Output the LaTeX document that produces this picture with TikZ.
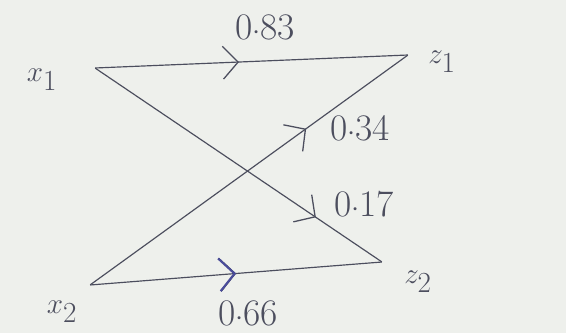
\documentclass[tikz,border=0pt]{standalone}
\usepackage{amsmath}
\usetikzlibrary{arrows.meta, decorations.markings, positioning}

\definecolor{paper}{HTML}{EEF0EC}
\definecolor{pencil}{HTML}{4C4E5E}
\definecolor{bluepen}{HTML}{4A4C9A}

\tikzset{
    hand/.style={font=\fontsize{32}{38}\selectfont, text=pencil},
    bighand/.style={font=\fontsize{44}{50}\selectfont, text=pencil},
    endpt/.style={inner sep=0pt, minimum size=0pt},
    wire/.style={draw=pencil, line width=1pt},
    midarrow/.style={postaction={decorate}, decoration={markings,
        mark=at position #1 with {\arrow[line width=1.1pt]{Straight Barb[length=13pt, width=28pt]}}}}
}

\begin{document}
\begin{tikzpicture}[x=0.03cm, y=-0.03cm]
        % Papel de fundo
        \fill[paper] (0,0) rectangle (566,333);
        \useasboundingbox (0,0) rectangle (566,333);

        % Pontos de entrada e saida
        \node[endpt] (x1) at (95,68) {};
        \node[endpt] (x2) at (90,285) {};
        \node[endpt] (z1) at (408,55) {};
        \node[endpt] (z2) at (382,262) {};

        % Nomes
        \node[bighand] (lx1) at (42,80) {$x_1$};
        \node[bighand] (lx2) at (62,312) {$x_2$};
        \node[bighand] (lz1) at (442,62) {$z_1$};
        \node[bighand] (lz2) at (418,282) {$z_2$};

        % Ligacoes
        \draw[wire, midarrow=0.46] (x1) -- (z1);
        \draw[wire, midarrow=0.77] (x1) -- (z2);
        \draw[wire, midarrow=0.68] (x2) -- (z1);
        \draw[wire, midarrow=0.50,
              postaction={decorate, decoration={markings, mark=at position 0.50 with
              {\arrow[bluepen, line width=1.8pt]{Straight Barb[length=13pt, width=28pt]}}}}] (x2) -- (z2);

        % Pesos
        \node[hand] (w11) at (265,27) {0${\cdot}$83};
        \node[hand] (w21) at (360,128) {0${\cdot}$34};
        \node[hand] (w12) at (364,204) {0${\cdot}$17};
        \node[hand] (w22) at (248,313) {0${\cdot}$66};
\end{tikzpicture}
\end{document}
